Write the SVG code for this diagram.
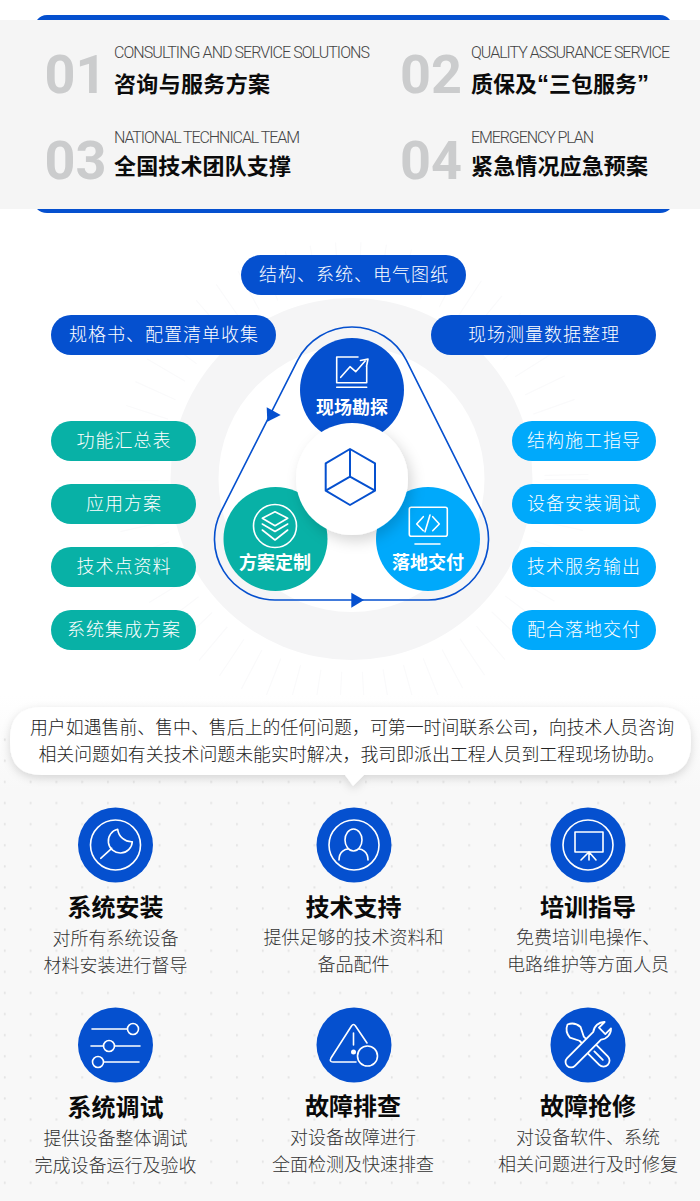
<svg xmlns="http://www.w3.org/2000/svg" width="700" height="1201" viewBox="0 0 700 1201">
<style>
text{font-family:"Noto Sans CJK SC","Noto Sans",sans-serif}
.en{font-family:Roboto,"Liberation Sans",sans-serif;font-size:16px;font-weight:300;fill:#444}
.num{font-family:Roboto,"Liberation Sans",sans-serif;font-size:54px;font-weight:700;fill:#cbcccd}
.tt{font-size:22px;font-weight:700;fill:#0b0b0b}
.q{font-family:"Liberation Sans",sans-serif;font-size:24px}
.pill{font-size:18px;font-weight:300;fill:#fff;text-anchor:middle;letter-spacing:1px}
.lab{font-size:18px;font-weight:700;fill:#fff;text-anchor:middle}
.cb{font-size:17.9px;font-weight:300;fill:#222;text-anchor:middle}
.h{font-size:24px;font-weight:700;fill:#0a0a0a;text-anchor:middle}
.s{font-size:18px;font-weight:300;fill:#333;text-anchor:middle}
.ic{fill:none;stroke:#fff;stroke-width:1.6;stroke-linecap:round;stroke-linejoin:round}
.b{fill:#0550cf}.t{fill:#08b1a6}.k{fill:#00a9fb}
</style>
<defs>
<linearGradient id="bgf" x1="0" y1="0" x2="0" y2="1"><stop offset="0" stop-color="#fff"/><stop offset="1" stop-color="#f8f8f8"/></linearGradient>
<pattern id="dots" patternUnits="userSpaceOnUse" x="-8" y="771" width="25.8" height="21.1"><ellipse cx="12.8" cy="11" rx=".9" ry="1.3" fill="#e3e3e3"/></pattern>
<filter id="sh" x="-30%" y="-30%" width="170%" height="170%"><feDropShadow dx="4" dy="6" stdDeviation="7" flood-color="#000" flood-opacity=".16"/></filter>
<filter id="sb" x="-5%" y="-30%" width="110%" height="170%"><feDropShadow dx="0" dy="3" stdDeviation="5" flood-color="#000" flood-opacity=".15"/></filter>
</defs>
<rect width="700" height="1201" fill="#fff"/>
<g id="header">
<path class="b" d="M37 20Q41 15 47 15H660Q666 15 670 20Z"/>
<rect y="20" width="700" height="189" fill="#f5f5f5"/>
<path class="b" d="M37 209H670Q666 213 660 213H47Q41 213 37 209Z"/>
</g>
<g id="item-01"><text class="num" x="44.5" y="93">01</text><text class="en" x="114" y="58" textLength="256">CONSULTING AND SERVICE SOLUTIONS</text><text class="tt" x="114" y="92" textLength="156">咨询与服务方案</text></g>
<g id="item-02"><text class="num" x="400" y="93">02</text><text class="en" x="471" y="58" textLength="199">QUALITY ASSURANCE SERVICE</text><text class="tt" x="471" y="92">质保及<tspan class="q">“</tspan>三包服务<tspan class="q">”</tspan></text></g>
<g id="item-03"><text class="num" x="44.5" y="179">03</text><text class="en" x="114" y="143" textLength="186">NATIONAL TECHNICAL TEAM</text><text class="tt" x="114" y="174" textLength="177">全国技术团队支撑</text></g>
<g id="item-04"><text class="num" x="400" y="179">04</text><text class="en" x="471" y="143" textLength="123">EMERGENCY PLAN</text><text class="tt" x="471" y="174" textLength="177">紧急情况应急预案</text></g>

<g id="backdrop">
<circle cx="351.5" cy="479" r="215" fill="none" stroke="#fafafb" stroke-width="44" stroke-dasharray="1.2 22"/>
<circle cx="351.5" cy="479" r="181" fill="#f5f5f6"/>
<circle cx="351.5" cy="479" r="133" fill="#fff"/>
</g>

<g id="pill-top"><rect class="b" x="241" y="255" width="225" height="40" rx="20"/><text class="pill" x="354" y="281">结构、系统、电气图纸</text></g>
<g id="pill-spec"><rect class="b" x="51" y="315" width="225" height="40" rx="20"/><text class="pill" x="164" y="341">规格书、配置清单收集</text></g>
<g id="pill-measure"><rect class="b" x="431" y="315" width="225" height="40" rx="20"/><text class="pill" x="544" y="341">现场测量数据整理</text></g>
<g id="pill-l1"><rect class="t" x="51" y="421" width="145" height="40" rx="20"/><text class="pill" x="124" y="447">功能汇总表</text></g>
<g id="pill-l2"><rect class="t" x="51" y="484" width="145" height="40" rx="20"/><text class="pill" x="124" y="510">应用方案</text></g>
<g id="pill-l3"><rect class="t" x="51" y="547" width="145" height="40" rx="20"/><text class="pill" x="124" y="573">技术点资料</text></g>
<g id="pill-l4"><rect class="t" x="51" y="610" width="145" height="40" rx="20"/><text class="pill" x="124" y="636">系统集成方案</text></g>
<g id="pill-r1"><rect class="k" x="512" y="421" width="144" height="40" rx="20"/><text class="pill" x="584" y="447">结构施工指导</text></g>
<g id="pill-r2"><rect class="k" x="512" y="484" width="144" height="40" rx="20"/><text class="pill" x="584" y="510">设备安装调试</text></g>
<g id="pill-r3"><rect class="k" x="512" y="547" width="144" height="40" rx="20"/><text class="pill" x="584" y="573">技术服务输出</text></g>
<g id="pill-r4"><rect class="k" x="512" y="610" width="144" height="40" rx="20"/><text class="pill" x="584" y="636">配合落地交付</text></g>

<g id="connectors">
<path d="M297.6 360.4A61 61 0 0 1 406.4 360.4L482.4 512.4A61 61 0 0 1 428 600H275A61 61 0 0 1 220.6 512.4Z" fill="none" stroke="#0550cf" stroke-width="1.6"/>
<path class="b" d="M266.7 407.3L280.7 415L267.3 421.7Z"/>
<path class="b" d="M351.3 592.7L364 600L351.3 607.7Z"/>
</g>

<g id="node-survey"><circle class="b" cx="352" cy="390" r="52"/>
<path class="ic" d="M358 357H336.7V382.7H366.7V366M336.7 387.3H366.7M340.7 377.3L350 366.7L355.7 371.7L366 360M360.5 360.5L368 359L366.5 366.5"/>
<text class="lab" x="352" y="414">现场勘探</text></g>
<g id="node-plan"><circle class="t" cx="275.5" cy="539" r="52"/>
<circle class="ic" cx="275" cy="526" r="21.5"/>
<path class="ic" d="M262.3 518.3L275 511.7L287.7 518.3L275 525.7ZM262.3 524L275 531.5L287.7 524M262.3 530L275 540L287.7 530"/>
<text class="lab" x="275" y="569">方案定制</text></g>
<g id="node-deliver"><circle class="k" cx="428" cy="539" r="52"/>
<rect class="ic" x="409.3" y="507.3" width="38" height="29" rx="2"/>
<path class="ic" d="M423.3 516.7L416.7 524L423.3 530.7M432.7 516.7L439.3 524L432.7 530.7M430 515L425 531.7M415 544H440"/>
<text class="lab" x="428" y="569">落地交付</text></g>
<g id="node-center"><circle cx="352" cy="479" r="56" fill="#fff" filter="url(#sh)"/>
<path d="M350 449L375 463.3V490.7L350 505L325.7 490.7V463.3ZM350 449V476.7M350 476.7L325.7 490.7M350 476.7L375 490.7" fill="none" stroke="#0550cf" stroke-width="2" stroke-linejoin="round"/></g>

<g id="lower-bg">
<rect y="695" width="700" height="95" fill="url(#bgf)"/>
<rect y="790" width="700" height="411" fill="#f8f8f8"/>
<rect y="735" width="700" height="466" fill="url(#dots)"/>
</g>
<g id="callout">
<path d="M42 707H659Q691 707 691 739V743Q691 775 659 775H364L353 786L345 775H42Q10 775 10 743V739Q10 707 42 707Z" fill="#fff" filter="url(#sb)"/>
<text class="cb" x="352" y="734">用户如遇售前、售中、售后上的任何问题，可第一时间联系公司，向技术人员咨询</text>
<text class="cb" x="351.5" y="761">相关问题如有关技术问题未能实时解决，我司即派出工程人员到工程现场协助。</text>
</g>

<g id="svc-install"><circle class="b" cx="115.5" cy="845" r="37.5"/><circle class="ic" cx="115.5" cy="845" r="25"/>
<path class="ic" d="M100.7 858.3L111.7 848.3M117.7 829.3A12 12 0 1 0 132.3 841.7A14 14 0 0 1 117.7 829.3Z"/>
<text class="h" x="115.5" y="916">系统安装</text><text class="s" x="115.5" y="945">对所有系统设备</text><text class="s" x="115.5" y="972">材料安装进行督导</text></g>
<g id="svc-support"><circle class="b" cx="354" cy="845" r="37.5"/><circle class="ic" cx="354" cy="845" r="25"/>
<ellipse class="ic" cx="353.5" cy="840" rx="8.5" ry="11"/><path class="ic" d="M339 860C339 851 346 849 348 849M368 860C368 851 361 849 359 849"/>
<text class="h" x="353.5" y="916">技术支持</text><text class="s" x="353.5" y="944">提供足够的技术资料和</text><text class="s" x="353.5" y="971">备品配件</text></g>
<g id="svc-train"><circle class="b" cx="588" cy="845" r="37.5"/><circle class="ic" cx="588" cy="845" r="25"/>
<rect class="ic" x="575" y="832" width="28" height="20"/><path class="ic" d="M589 852L581 860M589 852V860M589 852L596 860"/>
<text class="h" x="588" y="916">培训指导</text><text class="s" x="588" y="944">免费培训电操作、</text><text class="s" x="588" y="971">电路维护等方面人员</text></g>
<g id="svc-debug"><circle class="b" cx="115.5" cy="1045" r="37.5"/>
<path class="ic" d="M92 1029H127M91 1046H103.5M114.5 1046H140M104 1062H139"/><circle class="ic" cx="133" cy="1029" r="5.5"/><circle class="ic" cx="109" cy="1046" r="5.5"/><circle class="ic" cx="98" cy="1062" r="5.5"/>
<text class="h" x="115.5" y="1116">系统调试</text><text class="s" x="115.5" y="1145">提供设备整体调试</text><text class="s" x="115.5" y="1172">完成设备运行及验收</text></g>
<g id="svc-fault"><circle class="b" cx="354" cy="1045" r="37.5"/>
<path class="ic" d="M356 1062H333Q329 1062 331 1058L351.5 1026Q353.5 1023 355.5 1026L367 1043M353.5 1033V1045"/><circle cx="353.5" cy="1052" r="2.5" fill="#fff"/><circle class="ic" cx="367.5" cy="1056" r="10"/>
<text class="h" x="353" y="1115">故障排查</text><text class="s" x="353" y="1144">对设备故障进行</text><text class="s" x="353" y="1171">全面检测及快速排查</text></g>
<g id="svc-repair"><circle class="b" cx="588" cy="1045" r="37.5"/>
<g transform="translate(588 1045) rotate(-45)"><path class="ic" style="stroke-width:1.8" d="M-6 4H6V22A6 6 0 0 1 -6 22ZM0 9V21M-3 4V-9L-7.5 -18Q-7 -26 0 -29Q7 -26 7.5 -18L3 -9V4"/></g>
<g transform="translate(588 1045) rotate(45)"><path class="ic" style="fill:#0550cf;stroke-width:1.8" d="M-5.5 24V-13A11 11 0 0 1 -4.5 -28V-20H4.5V-28A11 11 0 0 1 5.5 -13V24A5.5 5.5 0 0 1 -5.5 24Z"/></g>
<text class="h" x="588" y="1115">故障抢修</text><text class="s" x="588" y="1144">对设备软件、系统</text><text class="s" x="588" y="1171">相关问题进行及时修复</text></g>
</svg>
